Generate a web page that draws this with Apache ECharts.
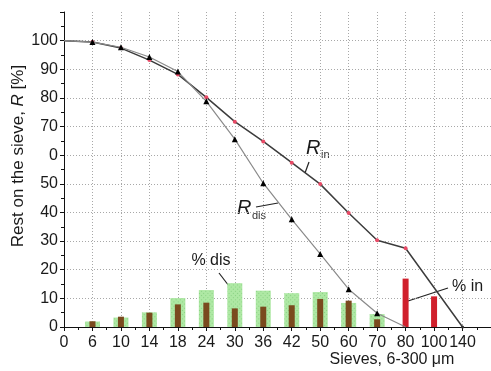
<!DOCTYPE html>
<html>
<head>
<meta charset="utf-8">
<script src="https://cdn.jsdelivr.net/npm/echarts@6/dist/echarts.min.js"></script>
<style>
html, body { margin: 0; padding: 0; background: #fff; }
#main { width: 491px; height: 371px; }
</style>
</head>
<body>
<div id="main"></div>
<script>
// sieve sizes, one per category slot on the x axis
var sieves = ['0', '6', '10', '14', '18', '24', '30', '36', '42', '50', '60', '70', '80', '100', '140'];
// y tick labels as printed on the original (the 60 reads "0")
var yTickLabels = ['0', '10', '20', '30', '40', '50', '0', '70', '80', '90', '100'];

var rIn   = [100, 99.5, 97.4, 93.2, 88.2, 80.2, 71.7, 64.8, 57.4, 49.9, 39.8, 30.3, 27.5, null, 0];
var rDis  = [100, 99.5, 97.7, 94.3, 89.2, 78.8, 65.6, 50.2, 37.6, 25.5, 13.2, 4.8, 0, null, null];
var pctDis = [null, 1.9, 3.3, 5.1, 10.1, 12.9, 15.3, 12.7, 11.8, 12.2, 8.4, 4.5, null, null, null];
var pctIn  = [null, 2.0, 3.6, 5.0, 7.9, 8.5, 6.5, 7.1, 7.6, 9.8, 9.2, 2.7, 16.9, 10.7, null];

function pairs(arr) {
  var out = [];
  arr.forEach(function (v, i) { if (v !== null) out.push([i, v]); });
  return out;
}

var font = 'Liberation Sans, Arial, sans-serif';
var myChart = echarts.init(document.getElementById('main'));

var xBase = {
  type: 'value', min: 0, max: 15, interval: 1
};

myChart.setOption({
  animation: false,
  grid: { left: 64, top: 12, width: 428, height: 315, containLabel: false },
  xAxis: [
    Object.assign({}, xBase, {
      axisLine: { lineStyle: { color: '#111', width: 1 } },
      axisTick: { show: true, length: 4, lineStyle: { color: '#111' } },
      minorTick: { show: true, splitNumber: 2, length: 3, lineStyle: { color: '#111' } },
      axisLabel: {
        color: '#1a1a1a', fontSize: 16, fontFamily: font, margin: 8,
        showMaxLabel: false,
        formatter: function (v) { return sieves[v] !== undefined ? sieves[v] : ''; }
      },
      splitLine: { show: true, showMinLine: false, lineStyle: { color: '#a8a8a8', type: [1, 2] } }
    }),
    Object.assign({}, xBase, { show: false })
  ],
  yAxis: {
    type: 'value', min: 0, max: 110, interval: 10,
    axisLine: { show: true, lineStyle: { color: '#111', width: 1 } },
    axisTick: { show: true, length: 4, lineStyle: { color: '#111' } },
    minorTick: { show: true, splitNumber: 2, length: 3, lineStyle: { color: '#111' } },
    axisLabel: {
      color: '#1a1a1a', fontSize: 16, fontFamily: font, margin: 6,
      formatter: function (v) { return yTickLabels[v / 10] !== undefined ? yTickLabels[v / 10] : ''; }
    },
    splitLine: { show: true, showMinLine: false, showMaxLine: false, lineStyle: { color: '#a8a8a8', type: [1, 2] } }
  },
  series: [
    {
      name: '% dis', type: 'bar', xAxisIndex: 0, barWidth: 15, z: 2,
      data: pairs(pctDis),
      itemStyle: {
        color: '#aee8a4',
        decal: {
          symbol: 'rect', symbolSize: 1, color: 'rgba(70,170,70,0.35)',
          dashArrayX: [1, 2], dashArrayY: [1, 2], rotation: Math.PI / 4
        }
      }
    },
    {
      name: '% in', type: 'bar', xAxisIndex: 1, barWidth: 6, z: 3,
      data: pairs(pctIn),
      itemStyle: {
        color: function (p) { return pctDis[p.data[0]] !== null ? '#7a4a1e' : '#d0202c'; }
      }
    },
    {
      name: 'R in', type: 'line', xAxisIndex: 0, z: 5,
      data: pairs(rIn),
      lineStyle: { color: '#3c3c3c', width: 1.5 },
      symbol: 'circle',
      symbolSize: function (v) { return v[0] === 0 ? 0 : (v[0] === 14 ? 3 : 4); },
      itemStyle: {
        color: function (p) { return p.data[0] === 14 ? '#333' : '#e84a66'; }
      }
    },
    {
      name: 'R dis', type: 'line', xAxisIndex: 0, z: 6,
      data: pairs(rDis),
      lineStyle: { color: '#8a8a8a', width: 1.2 },
      symbol: 'triangle',
      symbolSize: function (v) { return (v[0] === 0 || v[0] === 12) ? 0 : 6; },
      itemStyle: { color: '#000' }
    }
  ],
  graphic: [
    { type: 'text', x: 18, y: 156, rotation: Math.PI / 2,
      style: {
        text: '{a|Rest on the sieve, }{i|R}{a| [%]}',
        align: 'center', verticalAlign: 'middle',
        rich: {
          a: { fill: '#1a1a1a', fontSize: 17, fontFamily: font },
          i: { fill: '#1a1a1a', fontSize: 17, fontFamily: font, fontStyle: 'italic' }
        }
      }, silent: true },
    { type: 'text', x: 392, y: 360,
      style: { text: 'Sieves, 6-300 μm', fill: '#1a1a1a', font: '16px ' + font, align: 'center', verticalAlign: 'middle' } },
    // R_in label
    { type: 'text', x: 306, y: 148,
      style: { text: 'R', fill: '#1a1a1a', font: 'italic 20px ' + font, align: 'left', verticalAlign: 'middle' } },
    { type: 'text', x: 321, y: 155,
      style: { text: 'in', fill: '#333', font: '11px ' + font, align: 'left', verticalAlign: 'middle' } },
    { type: 'line', shape: { x1: 305, y1: 173, x2: 309, y2: 162 }, style: { stroke: '#222', lineWidth: 1.2 } },
    // R_dis label
    { type: 'text', x: 237, y: 208,
      style: { text: 'R', fill: '#1a1a1a', font: 'italic 20px ' + font, align: 'left', verticalAlign: 'middle' } },
    { type: 'text', x: 252, y: 216,
      style: { text: 'dis', fill: '#333', font: '11px ' + font, align: 'left', verticalAlign: 'middle' } },
    { type: 'line', shape: { x1: 256, y1: 207, x2: 278, y2: 203 }, style: { stroke: '#222', lineWidth: 1.2 } },
    // % dis label
    { type: 'text', x: 211, y: 261,
      style: { text: '% dis', fill: '#1a1a1a', font: '16px ' + font, align: 'center', verticalAlign: 'middle' } },
    { type: 'line', shape: { x1: 219, y1: 273, x2: 229, y2: 286 }, style: { stroke: '#222', lineWidth: 1.2 } },
    // % in label
    { type: 'text', x: 452, y: 287,
      style: { text: '% in', fill: '#1a1a1a', font: '16px ' + font, align: 'left', verticalAlign: 'middle' } },
    { type: 'line', shape: { x1: 408, y1: 301, x2: 448, y2: 288 }, style: { stroke: '#222', lineWidth: 1.2 } }
  ]
});
</script>
</body>
</html>
